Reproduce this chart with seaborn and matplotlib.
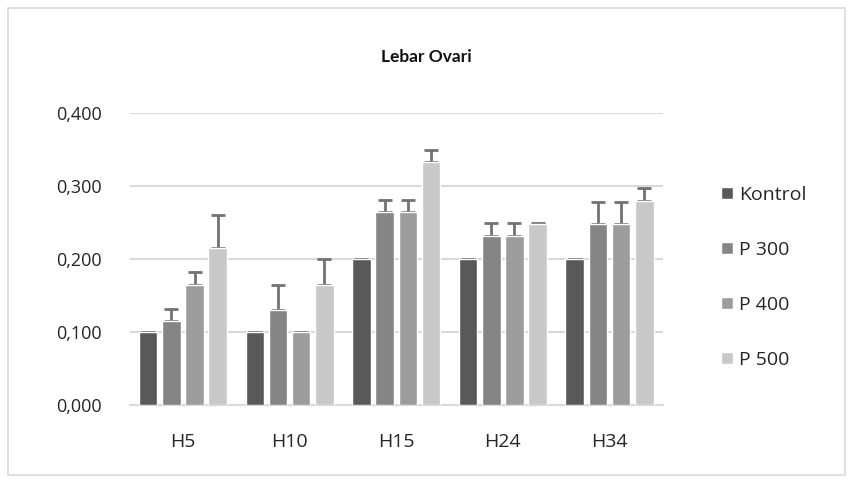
import pandas as pd
import numpy as np
import matplotlib
matplotlib.use("Agg")
import matplotlib.pyplot as plt
import seaborn as sns
from matplotlib.patches import Rectangle
from matplotlib.ticker import FuncFormatter

# data
hari = ["H5", "H10", "H15", "H24", "H34"]
kelompok = ["Kontrol", "P 300", "P 400", "P 500"]
kontrol = [0.100, 0.100, 0.200, 0.200, 0.200]
p300 = [0.115, 0.130, 0.265, 0.232, 0.248]
p400 = [0.165, 0.100, 0.265, 0.232, 0.248]
p500 = [0.215, 0.165, 0.333, 0.248, 0.280]
err_kontrol = [0.0, 0.0, 0.0, 0.0, 0.0]
err_p300 = [0.017, 0.035, 0.016, 0.017, 0.030]
err_p400 = [0.017, 0.0, 0.016, 0.017, 0.030]
err_p500 = [0.045, 0.035, 0.016, 0.001, 0.018]

warna = ["#595959", "#858585", "#9c9c9c", "#c8c8c8"]

nilai = [kontrol, p300, p400, p500]
galat = [err_kontrol, err_p300, err_p400, err_p500]

rows = []
for k, vals, errs in zip(kelompok, nilai, galat):
    for h, v, e in zip(hari, vals, errs):
        rows.append({"Hari": h, "Kelompok": k, "Lebar": v, "Err": e})
df = pd.DataFrame(rows)

sns.set_style("white")
plt.rcParams["font.family"] = ["Open Sans", "DejaVu Sans"]

fig = plt.figure(figsize=(8.53, 4.8), dpi=100)
ax = fig.add_axes([0.152, 0.156, 0.625, 0.608])

sns.barplot(data=df, x="Hari", y="Lebar", hue="Kelompok", order=hari,
            hue_order=kelompok, palette=warna, width=0.87, gap=0.2,
            errorbar=None, ax=ax, zorder=3, saturation=1)

# error bars (upper only), positioned on the drawn bars
for cont, k in zip(ax.containers, kelompok):
    sub = df[df["Kelompok"] == k].set_index("Hari").loc[hari]
    xs = [b.get_x() + b.get_width() / 2 for b in cont]
    ys = [b.get_height() for b in cont]
    errs = sub["Err"].values
    ax.errorbar(xs, ys, yerr=[np.zeros(len(errs)), errs], fmt="none",
                ecolor="#727272", elinewidth=2, capsize=5, capthick=2, zorder=2)

ax.set_xlim(-0.5, len(hari) - 0.5)
ax.set_ylim(0, 0.4)
ax.set_yticks([0, 0.1, 0.2, 0.3, 0.4])
ax.yaxis.set_major_formatter(FuncFormatter(lambda v, p: f"{v:.3f}".replace(".", ",")))
ax.yaxis.grid(True, color="#d9d9d9", linewidth=1.5, zorder=0)
ax.set_axisbelow(True)
for s in ["top", "right", "left"]:
    ax.spines[s].set_visible(False)
ax.spines["bottom"].set_color("#d9d9d9")
ax.spines["bottom"].set_linewidth(1.5)
ax.tick_params(axis="y", length=0, labelsize=13, colors="#262626", pad=20)
ax.tick_params(axis="x", length=0, labelsize=14, colors="#262626", pad=20)
ax.set_xlabel("")
ax.set_ylabel("")

ax.legend(frameon=False, loc="center left", bbox_to_anchor=(1.095, 0.437),
          borderaxespad=0, fontsize=14, handlelength=0.6, handleheight=0.6,
          handletextpad=0.3, labelspacing=1.9)

fig.text(0.5, 0.882, "Lebar Ovari", ha="center", va="center",
         fontsize=12.5, fontweight="bold", color="#111111", family=["Lato", "DejaVu Sans"])

fig.patches.append(Rectangle((0.009, 0.01), 0.982, 0.973, transform=fig.transFigure,
                             fill=False, edgecolor="#d9d9d9", linewidth=1.2))

fig.savefig("out.png", dpi=100)
